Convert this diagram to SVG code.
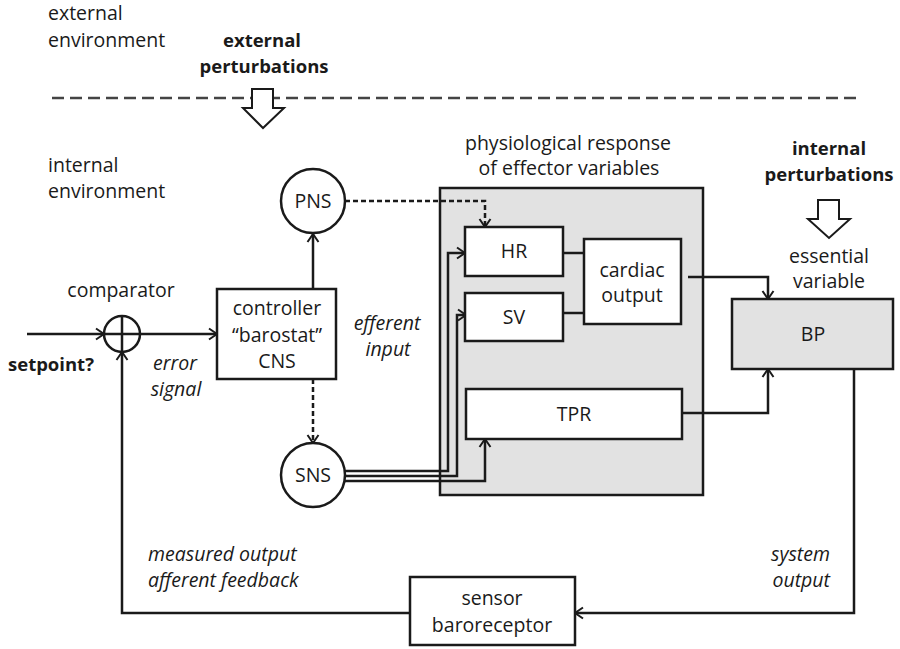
<svg xmlns="http://www.w3.org/2000/svg" width="900" height="649" viewBox="0 0 900 649">
<style>
text{font-family:"Open Sans","Liberation Sans",sans-serif;font-size:19.5px;fill:#1a1a1a}
.c{text-anchor:middle}
.b{font-weight:bold;font-size:18.5px}
.i{font-style:italic;font-size:19.5px}
.box{fill:#fff;stroke:#1a1a1a;stroke-width:2.5}
.gbox{fill:#e2e2e2;stroke:#1a1a1a;stroke-width:2.5}
.ln{fill:none;stroke:#1a1a1a;stroke-width:2.5}
.arr{marker-end:url(#chev)}
.dash{stroke-dasharray:5 3}
.hollow{fill:#fff;stroke:#1a1a1a;stroke-width:2}
</style>
<defs>
<marker id="chev" markerUnits="userSpaceOnUse" markerWidth="12" markerHeight="14" refX="10" refY="7" orient="auto">
<path d="M2,1.5 L10,7 L2,12.5" fill="none" stroke="#1a1a1a" stroke-width="2"/>
</marker>
</defs>

<g id="labels">
<text x="48" y="20">external</text>
<text x="48" y="47">environment</text>
<text x="262" y="47" class="c b">external</text>
<text x="264" y="73" class="c b">perturbations</text>
<text x="48" y="172">internal</text>
<text x="48" y="198">environment</text>
<text x="568" y="150" class="c">physiological response</text>
<text x="569" y="175" class="c">of effector variables</text>
<text x="829" y="155" class="c b">internal</text>
<text x="829" y="181" class="c b">perturbations</text>
<text x="829" y="263" class="c">essential</text>
<text x="829" y="288" class="c">variable</text>
<text x="121" y="297" class="c">comparator</text>
<text x="8" y="371" class="b">setpoint?</text>
<text x="175" y="370" class="c i">error</text>
<text x="176" y="396" class="c i">signal</text>
<text x="387" y="330" class="c i">efferent</text>
<text x="388" y="356" class="c i">input</text>
<text x="148" y="561" class="i">measured output</text>
<text x="148" y="587" class="i">afferent feedback</text>
<text x="830" y="561" class="i" text-anchor="end">system</text>
<text x="830" y="587" class="i" text-anchor="end">output</text>
</g>

<g id="boundary">
<line x1="52" y1="98" x2="862" y2="98" stroke="#444" stroke-width="2.5" stroke-dasharray="12 6"/>
<polygon class="hollow" points="252,89 273,89 273,108 284,108 263,128 243,108 252,108"/>
<polygon class="hollow" points="818,200 839,200 839,219 850,219 829,238 808,219 818,219"/>
</g>

<g id="effector-group">
<rect class="gbox" x="440" y="188" width="263" height="307"/>
</g>

<g id="connectors">
<path class="ln arr" d="M27,334 H104"/>
<path class="ln arr" d="M141,334 H217"/>
<path class="ln arr" d="M313,289 V234"/>
<path class="ln arr dash" d="M313,379 V443"/>
<path class="ln arr dash" d="M345,201 H485 V227"/>
<path class="ln arr" d="M344,471 H448 V253 H465"/>
<path class="ln arr" d="M345,476 H457 V315 H466"/>
<path class="ln arr" d="M344,481 H485 V439"/>
<path class="ln" d="M563,253 H584"/>
<path class="ln" d="M563,313 H584"/>
<path class="ln arr" d="M688,277 H768 V299"/>
<path class="ln arr" d="M682,413 H768 V369"/>
<path class="ln arr" d="M854,369 V613 H575"/>
<path class="ln arr" d="M410,613 H122 V352"/>
</g>

<g id="comparator">
<circle cx="122" cy="334" r="18" fill="none" stroke="#1a1a1a" stroke-width="2.5"/>
<path class="ln" d="M104,334 H140 M122,316 V352"/>
</g>

<g id="controller">
<rect class="box" x="217" y="289" width="119" height="90"/>
<text x="277" y="315" class="c">controller</text>
<text x="277" y="342" class="c">“barostat”</text>
<text x="277" y="368" class="c">CNS</text>
</g>

<g id="PNS">
<circle cx="313" cy="201" r="32" fill="#fff" stroke="#1a1a1a" stroke-width="2.5"/>
<text x="313" y="208" class="c">PNS</text>
</g>

<g id="SNS">
<circle cx="313" cy="475" r="32" fill="#fff" stroke="#1a1a1a" stroke-width="2.5"/>
<text x="313" y="482" class="c">SNS</text>
</g>

<g id="HR">
<rect class="box" x="465" y="227" width="98" height="49"/>
<text x="514" y="258" class="c">HR</text>
</g>

<g id="SV">
<rect class="box" x="465" y="293" width="98" height="48"/>
<text x="514" y="324" class="c">SV</text>
</g>

<g id="cardiac-output">
<rect class="box" x="584" y="239" width="97" height="85"/>
<text x="632" y="277" class="c">cardiac</text>
<text x="632" y="302" class="c">output</text>
</g>

<g id="TPR">
<rect class="box" x="466" y="389" width="216" height="50"/>
<text x="574" y="421" class="c">TPR</text>
</g>

<g id="BP">
<rect class="gbox" x="732" y="299" width="161" height="70"/>
<text x="813" y="341" class="c">BP</text>
</g>

<g id="sensor">
<rect class="box" x="410" y="577" width="165" height="68"/>
<text x="492" y="605" class="c">sensor</text>
<text x="492" y="632" class="c">baroreceptor</text>
</g>
</svg>
